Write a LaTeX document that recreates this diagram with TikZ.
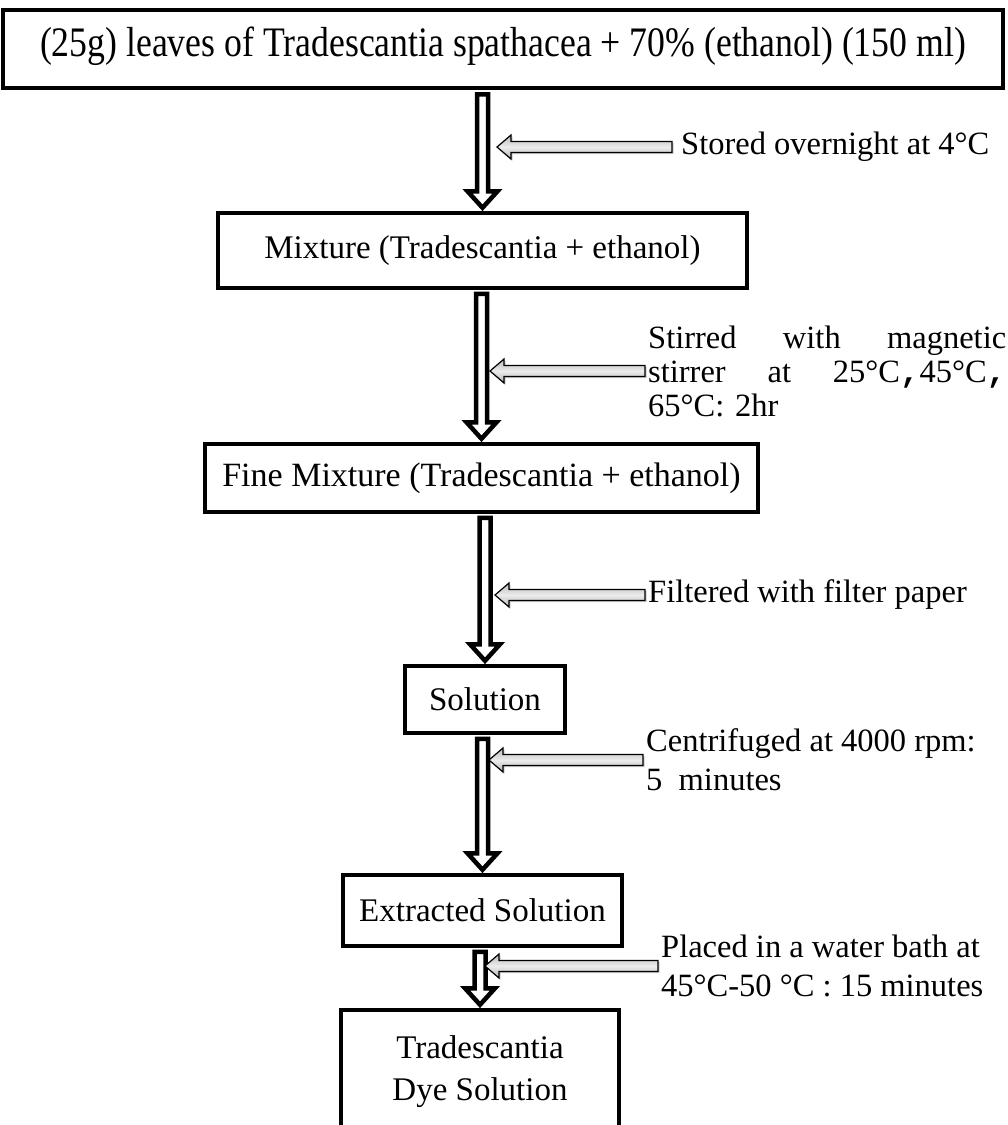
\documentclass[tikz,border=0pt]{standalone}
\usepackage{fontspec}
\setmainfont{Liberation Serif}
\newfontfamily\condensedfont{Liberation Serif}[FakeStretch=0.85]
\newfontfamily\commafont{Liberation Mono}
\usetikzlibrary{calc,shadows}

\tikzset{
  stepbox/.style={draw=black,line width=3.5pt,fill=white,inner sep=0pt,align=center,
    font=\fontsize{33}{38}\selectfont},
  note/.style={inner xsep=3pt,inner ysep=0pt,align=left,anchor=west,
    font=\fontsize{32.5}{39}\selectfont},
  flow/.style={draw=black,line width=4.5pt,fill=white,line join=miter},
  side/.style={draw=black,line width=1.2pt,top color=gray!55,bottom color=gray!60,
    middle color=gray!15,drop shadow={shadow xshift=1.5pt,shadow yshift=-1.5pt,fill=gray!80}}
}

% hollow arrow between two steps
\newcommand{\flowarrow}[2]{%
  \draw[flow] let \p1=(#1.south), \p2=(#2.north) in
    (\x2-5.5,\y1-4) -- (\x2-5.5,\y2+20) -- (\x2-15,\y2+20) -- (\x2,\y2+3.5)
    -- (\x2+15,\y2+20) -- (\x2+5.5,\y2+20) -- (\x2+5.5,\y1-4) -- cycle;
}
% grey arrow from a note to the flow
\newcommand{\sidearrow}[2]{%
  \draw[side] let \p1=(#1.west), \p2=(#2) in
    (\x1,\y1+5.5) -- (\x2+14,\y1+5.5) -- (\x2+14,\y1+12) -- (\x2,\y1)
    -- (\x2+14,\y1-12) -- (\x2+14,\y1-5.5) -- (\x1,\y1-5.5) -- cycle;
}

\begin{document}
\begin{tikzpicture}[x=1pt,y=-1pt]

  \fill[white] (0,0) rectangle (1008,1125);
  \useasboundingbox (0,0) rectangle (1008,1125);

  % steps
  \node[stepbox,line width=4.5pt,minimum width=1000pt,minimum height=78pt,
    font=\condensedfont\fontsize{42}{48}\selectfont] (leaves) at (503,49)
    {\raisebox{14pt}{(25g) leaves of Tradescantia spathacea + 70\% (ethanol) (150 ml)}};
  \node[stepbox,minimum width=529pt,minimum height=75pt] (mix) at (482.5,250.5)
    {Mixture (Tradescantia + ethanol)};
  \node[stepbox,minimum width=553pt,minimum height=68pt,font=\fontsize{34}{40}\selectfont]
    (finemix) at (481.5,478) {Fine Mixture (Tradescantia + ethanol)};
  \node[stepbox,minimum width=160pt,minimum height=67pt] (sol) at (485,699.5) {Solution};
  \node[stepbox,minimum width=279pt,minimum height=71pt] (extr) at (482.5,910.5)
    {Extracted Solution};
  \node[stepbox,minimum width=278pt,minimum height=124pt,font=\fontsize{33}{42}\selectfont]
    (dye) at (480,1072) {Tradescantia\\Dye Solution};

  % arrows down
  \flowarrow{leaves}{mix}
  \flowarrow{mix}{finemix}
  \flowarrow{finemix}{sol}
  \flowarrow{sol}{extr}
  \flowarrow{extr}{dye}

  % notes
  \node[note,inner xsep=9pt] (n1) at (672,147) {Stored overnight at 4°C};
  \node[note,text width=358pt,font=\fontsize{32.5}{34}\selectfont] (n2) at (645,371)
    {Stirred\hfill with\hfill magnetic\\
     stirrer\hfill at\hfill 25°C{\commafont\bfseries,}45°C{\commafont\bfseries,}\\
     65°C: 2hr};
  \node[note] (n3) at (645,595) {Filtered with filter paper};
  \node[note] (n4) at (643,760) {Centrifuged at 4000 rpm:\\5~~minutes};
  \node[note] (n5) at (658,966) {Placed in a water bath at\\45°C-50 °C : 15 minutes};

  \coordinate (t1) at (497,147);
  \coordinate (t2) at (490,371);
  \coordinate (t3) at (495,595);
  \coordinate (t4) at (489,760);
  \coordinate (t5) at (485,966);

  \sidearrow{n1}{t1}
  \sidearrow{n2}{t2}
  \sidearrow{n3}{t3}
  \sidearrow{n4}{t4}
  \sidearrow{n5}{t5}

\end{tikzpicture}
\end{document}
